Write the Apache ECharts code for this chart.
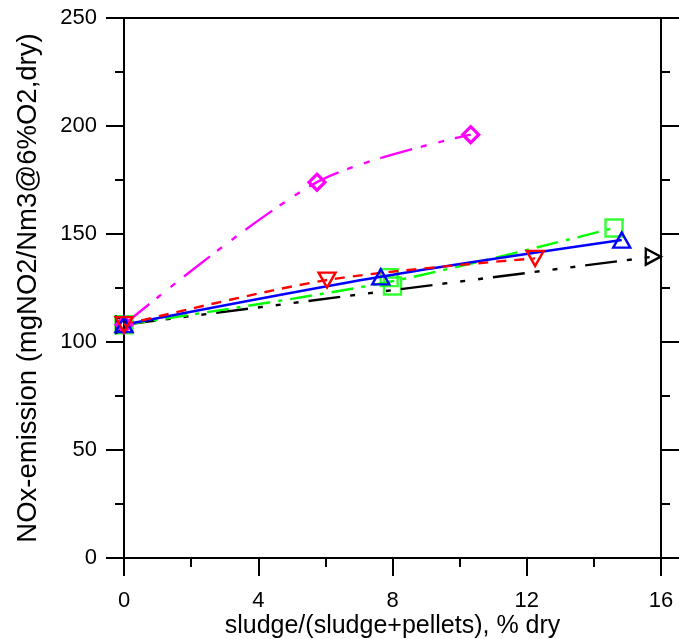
<!DOCTYPE html>
<html>
<head>
<meta charset="utf-8">
<script src="https://cdn.jsdelivr.net/npm/echarts@6/dist/echarts.min.js"></script>
<style>html,body{margin:0;padding:0;background:#fff}#c{width:679px;height:639px}</style>
</head>
<body>
<div id="c"></div>
<script>
// Axis ranges
const xMin = 0, xMax = 16, xStep = 4;
const yMin = 0, yMax = 250, yStep = 50;
const xTitle = 'sludge/(sludge+pellets), % dry';
const yTitle = 'NOx-emission (mgNO2/Nm3@6%O2,dry)';

// Series values
const magentaX = [0, 5.75, 10.33];
const magentaY = [108, 174, 196];

const greenX = [0, 7.9, 8.0, 14.6];
const greenY = [108, 129.8, 125.9, 152.8];
const greenLineX = [0, 7.95, 14.6];
const greenLineY = [108, 128, 152.8];

const blueX = [0, 7.65, 14.83];
const blueY = [108, 130.2, 147.2];

const redX = [0, 6.05, 12.25];
const redY = [108, 128.7, 138.7];

const blackX = [0, 15.77];
const blackY = [108, 139.5];

const pts = (xs, ys) => xs.map((x, i) => [x, ys[i]]);
const FONT = '"Liberation Sans", Arial, sans-serif';
const LW = 2.4;

const chart = echarts.init(document.getElementById('c'), null, {renderer: 'canvas'});

function lineSeries(data, color, dash, symbol, size, rotate, extra) {
  return Object.assign({
    type: 'line',
    data: data,
    smooth: data.length > 2 ? 0.3 : false,
    symbol: symbol || 'none',
    symbolSize: size || 0,
    symbolRotate: rotate || 0,
    showAllSymbol: true,
    clip: false,
    lineStyle: {color: color, width: LW, type: dash},
    itemStyle: {color: 'transparent', borderColor: color, borderWidth: LW},
    emphasis: {disabled: true},
    animation: false
  }, extra || {});
}

const option = {
  backgroundColor: '#fff',
  animation: false,
  grid: {left: 124, right: 18, top: 18, bottom: 81, containLabel: false, outerBoundsMode: 'none'},
  xAxis: [{
    type: 'value', min: xMin, max: xMax, interval: xStep, position: 'bottom',
    name: xTitle, nameLocation: 'middle', nameGap: 56, nameMoveOverlap: false,
    nameTextStyle: {fontFamily: FONT, fontSize: 25, color: '#000'},
    axisLine: {show: true, onZero: false, lineStyle: {color: '#000', width: 2}},
    axisTick: {show: true, length: 18, lineStyle: {color: '#000', width: 2}},
    minorTick: {show: true, splitNumber: 2, length: 9, lineStyle: {color: '#000', width: 2}},
    axisLabel: {fontFamily: FONT, fontSize: 22, color: '#000', margin: 32},
    splitLine: {show: false}
  }, {
    type: 'value', min: xMin, max: xMax, interval: xStep, position: 'top',
    axisLine: {show: true, onZero: false, lineStyle: {color: '#000', width: 2}},
    axisTick: {show: false}, axisLabel: {show: false}, splitLine: {show: false}
  }],
  yAxis: [{
    type: 'value', min: yMin, max: yMax, interval: yStep, position: 'left',
    name: yTitle, nameLocation: 'middle', nameGap: 82, nameMoveOverlap: false,
    nameTextStyle: {fontFamily: FONT, fontSize: 27.5, color: '#000'},
    axisLine: {show: true, onZero: false, lineStyle: {color: '#000', width: 2}},
    axisTick: {show: true, length: 18, lineStyle: {color: '#000', width: 2}},
    minorTick: {show: true, splitNumber: 2, length: 9, lineStyle: {color: '#000', width: 2}},
    axisLabel: {fontFamily: FONT, fontSize: 22, color: '#000', margin: 27},
    splitLine: {show: false}
  }, {
    type: 'value', min: yMin, max: yMax, interval: yStep, position: 'right',
    axisLine: {show: true, onZero: false, lineStyle: {color: '#000', width: 2}},
    axisTick: {show: true, length: 18, lineStyle: {color: '#000', width: 2}},
    minorTick: {show: true, splitNumber: 2, length: 9, lineStyle: {color: '#000', width: 2}},
    axisLabel: {show: false}, splitLine: {show: false}
  }],
  series: [
    lineSeries(pts(blackX, blackY), '#000000', [32, 10, 5, 13, 5, 13, 5, 10], 'triangle', [16, 15], -90),
    lineSeries(pts(magentaX, magentaY), '#ff00ff', [33, 9, 6, 12, 6, 11], 'diamond', [16, 16], 0,
      {itemStyle: {color: 'transparent', borderColor: '#ff00ff', borderWidth: 3.2}}),
    lineSeries(pts(greenLineX, greenLineY), '#00ff00', [22, 8, 4, 8]),
    {
      type: 'scatter', data: pts(greenX, greenY), symbol: 'rect', symbolSize: 17, clip: false,
      itemStyle: {color: 'transparent', borderColor: '#00ff00', borderWidth: LW},
      emphasis: {disabled: true}, animation: false
    },
    lineSeries(pts(blueX, blueY), '#0000ff', 'solid', 'triangle', [17, 15], 0),
    lineSeries(pts(redX, redY), '#ff0000', [10, 8], 'triangle', [17, 15], 180)
  ]
};
chart.setOption(option);
</script>
</body>
</html>
